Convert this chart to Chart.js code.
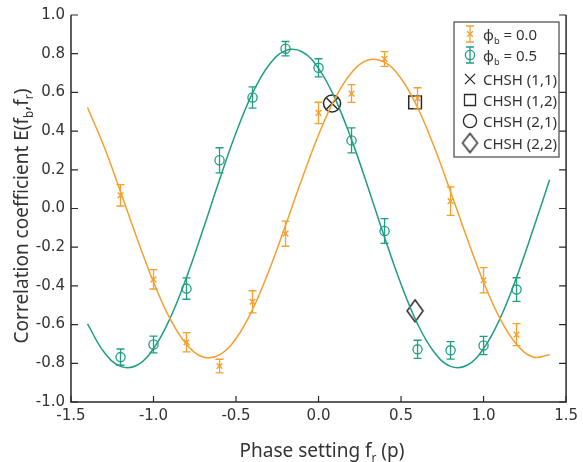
<!DOCTYPE html>
<html>
<head>
<meta charset="utf-8">
<script src="https://cdn.jsdelivr.net/npm/chart.js@4/dist/chart.umd.min.js"></script>
<style>
  html, body { margin: 0; padding: 0; background: #fff; }
  #wrap { width: 583px; height: 462px; }
</style>
</head>
<body>
<div id="wrap"><canvas id="corrChart"></canvas></div>
<script>
// measured points
const phase = [-1.2, -1.0, -0.8, -0.6, -0.4, -0.2, 0.0, 0.2, 0.4, 0.6, 0.8, 1.0, 1.2];
const corr00 = [0.068, -0.366, -0.691, -0.814, -0.482, -0.13, 0.494, 0.594, 0.773, 0.569, 0.038, -0.371, -0.652];
const err00 = [0.055, 0.05, 0.05, 0.035, 0.057, 0.065, 0.055, 0.046, 0.038, 0.055, 0.074, 0.065, 0.057];
const corr05 = [-0.768, -0.703, -0.414, 0.249, 0.574, 0.826, 0.727, 0.352, -0.116, -0.728, -0.733, -0.708, -0.419];
const err05 = [0.042, 0.043, 0.055, 0.065, 0.055, 0.037, 0.047, 0.065, 0.064, 0.047, 0.045, 0.047, 0.061];

// fitted curves
const curveX = [-1.4, -1.3, -1.2, -1.1, -1.0, -0.9, -0.8, -0.7, -0.6, -0.5, -0.4, -0.3, -0.2, -0.1, 0.0,
  0.1, 0.2, 0.3, 0.4, 0.5, 0.6, 0.7, 0.8, 0.9, 1.0, 1.1, 1.2, 1.3, 1.4];
const fit00 = [0.522, 0.320, 0.087, -0.154, -0.380, -0.569, -0.702, -0.767, -0.756, -0.672, -0.522, -0.320, -0.087, 0.154, 0.380,
  0.569, 0.702, 0.767, 0.756, 0.672, 0.522, 0.320, 0.087, -0.154, -0.380, -0.569, -0.702, -0.767, -0.756];
const fit05 = [-0.596, -0.742, -0.816, -0.810, -0.724, -0.568, -0.356, -0.109, 0.149, 0.391, 0.596, 0.742, 0.816, 0.810, 0.724,
  0.568, 0.356, 0.109, -0.149, -0.391, -0.596, -0.742, -0.816, -0.810, -0.724, -0.568, -0.356, -0.109, 0.149];

// CHSH settings
const chshLabels = ['CHSH (1,1)', 'CHSH (1,2)', 'CHSH (2,1)', 'CHSH (2,2)'];
const chshX = [0.082, 0.585, 0.082, 0.585];
const chshY = [0.543, 0.548, 0.543, -0.529];

const xTicks = [-1.5, -1.0, -0.5, 0.0, 0.5, 1.0, 1.5];
const yTicks = [-1.0, -0.8, -0.6, -0.4, -0.2, 0.0, 0.2, 0.4, 0.6, 0.8, 1.0];

const ORANGE = '#f5a02e';
const TEAL = '#1f9e83';
const INK = '#2a2a2a';
const NONE = 'rgba(0,0,0,0)';
const FONT = '"DejaVu Sans", Verdana, sans-serif';
const TFONT = '"Noto Sans", "DejaVu Sans", sans-serif';

function pts(xs, ys) { return xs.map((x, i) => ({ x: x, y: ys[i] })); }

function diamondImage(w, h, lw) {
  const c = document.createElement('canvas');
  c.width = w + 4; c.height = h + 4;
  const g = c.getContext('2d');
  g.strokeStyle = INK; g.lineWidth = lw;
  g.beginPath();
  g.moveTo(c.width / 2, 2); g.lineTo(c.width - 2, c.height / 2);
  g.lineTo(c.width / 2, c.height - 2); g.lineTo(2, c.height / 2);
  g.closePath(); g.stroke();
  return c;
}
const diamondBig = diamondImage(16, 22, 1.5);
const diamondSmall = diamondImage(15, 19, 1.4);

// error bars
const errorBars = {
  id: 'errorBars',
  afterDatasetsDraw(chart) {
    const { ctx, scales: { x, y } } = chart;
    [[corr00, err00, ORANGE], [corr05, err05, TEAL]].forEach(([vals, errs, col]) => {
      ctx.save();
      ctx.strokeStyle = col; ctx.lineWidth = 1.3;
      phase.forEach((p, i) => {
        const px = x.getPixelForValue(p);
        const top = y.getPixelForValue(vals[i] + errs[i]);
        const bot = y.getPixelForValue(vals[i] - errs[i]);
        ctx.beginPath();
        ctx.moveTo(px, top); ctx.lineTo(px, bot);
        ctx.moveTo(px - 4, top); ctx.lineTo(px + 4, top);
        ctx.moveTo(px - 4, bot); ctx.lineTo(px + 4, bot);
        ctx.stroke();
      });
      ctx.restore();
    });
  }
};

// frame with inward ticks
const frame = {
  id: 'frame',
  afterDraw(chart) {
    const { ctx, chartArea: a, scales: { x, y } } = chart;
    ctx.save();
    ctx.strokeStyle = INK; ctx.lineWidth = 1.5;
    ctx.beginPath();
    ctx.moveTo(a.left, a.top); ctx.lineTo(a.left, a.bottom);
    ctx.lineTo(a.right, a.bottom); ctx.lineTo(a.right, a.top);
    ctx.stroke();
    ctx.lineWidth = 1.2;
    ctx.beginPath();
    xTicks.forEach(v => {
      const px = x.getPixelForValue(v);
      ctx.moveTo(px, a.bottom); ctx.lineTo(px, a.bottom - 6);
    });
    yTicks.forEach(v => {
      const py = y.getPixelForValue(v);
      ctx.moveTo(a.left, py); ctx.lineTo(a.left + 7, py);
      ctx.moveTo(a.right, py); ctx.lineTo(a.right - 7, py);
    });
    ctx.stroke();
    ctx.restore();
  }
};

function drawParts(ctx, parts, x0, y0, size) {
  // parts: [text, isSub]
  let xx = x0;
  parts.forEach(([t, sub]) => {
    ctx.font = (sub ? size * 0.62 : size) + 'px ' + TFONT;
    ctx.fillText(t, xx, sub ? y0 + size * 0.28 : y0);
    xx += ctx.measureText(t).width;
  });
  return xx - x0;
}
function partsWidth(ctx, parts, size) {
  let w = 0;
  parts.forEach(([t, sub]) => {
    ctx.font = (sub ? size * 0.62 : size) + 'px ' + TFONT;
    w += ctx.measureText(t).width;
  });
  return w;
}

const titlesAndLegend = {
  id: 'titlesAndLegend',
  afterDraw(chart) {
    const { ctx } = chart;
    ctx.save();
    ctx.fillStyle = '#333';
    ctx.textBaseline = 'alphabetic';
    ctx.textAlign = 'left';

    // x title
    const xt = [['Phase setting f', false], ['r', true], [' (p)', false]];
    const xs = 19;
    drawParts(ctx, xt, 322 - partsWidth(ctx, xt, xs) / 2, 457, xs);

    // y title
    const yt = [['Correlation coefficient E(f', false], ['b', true], [',f', false], ['r', true], [')', false]];
    ctx.translate(28, 216);
    ctx.rotate(-Math.PI / 2);
    drawParts(ctx, yt, -partsWidth(ctx, yt, xs) / 2, 0, xs);
    ctx.setTransform(1, 0, 0, 1, 0, 0);

    // legend box
    const bx = 454, by = 22, bw = 105, bh = 135;
    ctx.fillStyle = '#fff';
    ctx.fillRect(bx, by, bw, bh);
    ctx.strokeStyle = '#555'; ctx.lineWidth = 1.3;
    ctx.strokeRect(bx, by, bw, bh);

    const rows = [34, 55, 79, 100, 121, 143];
    const sx = 470, tx = 483, fs = 15;
    const H = Chart.helpers;

    // phi_b rows with error bar symbols
    [[ORANGE, 'crossRot', 4, '0.0'], [TEAL, 'circle', 4.6, '0.5']].forEach(([col, style, r, val], i) => {
      const cy = rows[i];
      ctx.strokeStyle = col; ctx.lineWidth = 1.3;
      ctx.beginPath();
      ctx.moveTo(sx, cy - 8); ctx.lineTo(sx, cy + 8);
      ctx.moveTo(sx - 4, cy - 8); ctx.lineTo(sx + 4, cy - 8);
      ctx.moveTo(sx - 4, cy + 8); ctx.lineTo(sx + 4, cy + 8);
      ctx.stroke();
      ctx.fillStyle = NONE;
      H.drawPoint(ctx, { pointStyle: style, radius: r, borderWidth: 1.3, rotation: 0 }, sx, cy);
      ctx.fillStyle = '#333';
      drawParts(ctx, [['\u03d5', false], ['b', true], [' = ' + val, false]], tx, cy + 5.5, fs);
    });

    const chshStyles = [['crossRot', 7.2], ['rect', 7.8], ['circle', 6.6], [diamondSmall, 8]];
    chshLabels.forEach((lab, i) => {
      const cy = rows[i + 2];
      ctx.strokeStyle = INK;
      ctx.fillStyle = NONE;
      H.drawPoint(ctx, { pointStyle: chshStyles[i][0], radius: chshStyles[i][1], borderWidth: 1.4, rotation: 0 }, sx, cy);
      ctx.fillStyle = '#333';
      ctx.font = fs + 'px ' + TFONT;
      ctx.fillText(lab, tx, cy + 5.5);
    });
    ctx.restore();
  }
};

new Chart(document.getElementById('corrChart'), {
  type: 'scatter',
  data: {
    datasets: [
      { data: pts(curveX, fit00), showLine: true, borderColor: ORANGE, borderWidth: 1.5, pointRadius: 0, tension: 0.4 },
      { data: pts(curveX, fit05), showLine: true, borderColor: TEAL, borderWidth: 1.5, pointRadius: 0, tension: 0.4 },
      { data: pts(phase, corr00), pointStyle: 'crossRot', pointRadius: 4, borderColor: ORANGE, borderWidth: 1.4 },
      { data: pts(phase, corr05), pointStyle: 'circle', pointRadius: 4.6, borderColor: TEAL, backgroundColor: NONE, borderWidth: 1.3 },
      { data: [{ x: chshX[0], y: chshY[0] }], pointStyle: 'crossRot', pointRadius: 7.8, borderColor: INK, borderWidth: 1.5 },
      { data: [{ x: chshX[1], y: chshY[1] }], pointStyle: 'rect', pointRadius: 9, borderColor: INK, backgroundColor: NONE, borderWidth: 1.5 },
      { data: [{ x: chshX[2], y: chshY[2] }], pointStyle: 'circle', pointRadius: 8.5, borderColor: INK, backgroundColor: NONE, borderWidth: 1.5 },
      { data: [{ x: chshX[3], y: chshY[3] }], pointStyle: diamondBig, borderColor: INK }
    ]
  },
  options: {
    responsive: true,
    maintainAspectRatio: false,
    animation: false,
    layout: { padding: { top: 10, right: 12, left: 0, bottom: 0 } },
    plugins: { legend: { display: false }, tooltip: { enabled: false } },
    scales: {
      x: {
        type: 'linear', min: -1.5, max: 1.5,
        afterFit: s => { s.height = 60; },
        afterBuildTicks: s => { s.ticks = xTicks.map(v => ({ value: v })); },
        grid: { display: false, drawTicks: false },
        border: { display: false },
        ticks: { padding: 5, color: '#333', font: { family: FONT, size: 15 }, callback: v => v.toFixed(1) }
      },
      y: {
        type: 'linear', min: -1, max: 1,
        afterFit: s => { s.width = 71; },
        afterBuildTicks: s => { s.ticks = yTicks.map(v => ({ value: v })); },
        grid: { display: false, drawTicks: false },
        border: { display: false },
        ticks: { padding: 6, color: '#333', font: { family: FONT, size: 15 }, callback: v => v.toFixed(1) }
      }
    }
  },
  plugins: [errorBars, frame, titlesAndLegend]
});
</script>
</body>
</html>
